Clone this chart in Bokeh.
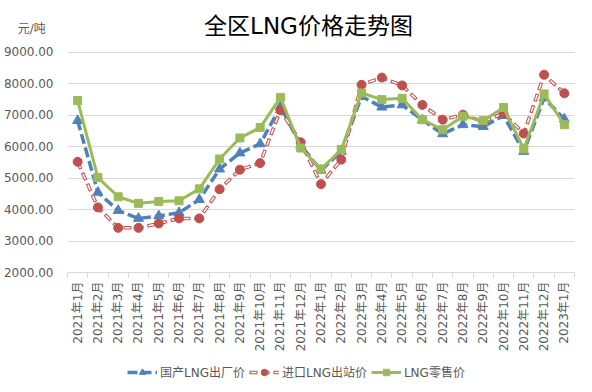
import numpy as np
from bokeh.plotting import figure
from bokeh.layouts import column
from bokeh.models import (Range1d, FixedTicker, PrintfTickFormatter, Legend,
                          LegendItem, Label, ColumnDataSource)
from bokeh.embed import file_html
from bokeh.resources import INLINE

months = ["2021年1月", "2021年2月", "2021年3月", "2021年4月", "2021年5月", "2021年6月",
          "2021年7月", "2021年8月", "2021年9月", "2021年10月", "2021年11月", "2021年12月",
          "2022年1月", "2022年2月", "2022年3月", "2022年4月", "2022年5月", "2022年6月",
          "2022年7月", "2022年8月", "2022年9月", "2022年10月", "2022年11月", "2022年12月",
          "2023年1月"]
domestic = [6830, 4550, 3970, 3720, 3800, 3900, 4320, 5290, 5800, 6090, 7280, 6050,
            5250, 5850, 7600, 7260, 7330, 6850, 6410, 6700, 6640, 6990, 5850, 7550, 6880]
imported = [5520, 4070, 3420, 3420, 3560, 3720, 3720, 4650, 5270, 5480, 7170, 6140,
            4810, 5590, 7970, 8200, 7950, 7330, 6860, 7020, 6800, 7060, 6420, 8290, 7700]
retail = [7470, 5020, 4410, 4200, 4260, 4280, 4660, 5610, 6280, 6610, 7570, 5960,
          5290, 5910, 7710, 7500, 7540, 6860, 6540, 6970, 6830, 7250, 5930, 7680, 6700]
y_ticks = [2000, 3000, 4000, 5000, 6000, 7000, 8000, 9000]
series_names = ["国产LNG出厂价", "进口LNG出站价", "LNG零售价"]
title_text = "全区LNG价格走势图"
unit_text = "元/吨"

BLUE = "#4F81BD"
RED = "#C0504D"
GREEN = "#9BBB59"
GRID = "#D9D9D9"
TXT = "#595959"
FONT = "DejaVu Sans, Noto Sans CJK SC"

# frame extends above the 9000 line to host the title and unit label
Y_TOP = 10270
UNIT_Y = 9760

n = len(months)
xs = np.arange(n) + 0.5
src = ColumnDataSource(dict(x=xs, d=domestic, i=imported, r=retail))

p = figure(frame_width=507, frame_height=260, output_backend="svg", toolbar_location=None,
           x_range=Range1d(0, n), y_range=Range1d(y_ticks[0], Y_TOP),
           min_border_left=61, min_border_right=8, min_border_top=12, min_border_bottom=86)
p.outline_line_color = None
p.background_fill_color = "white"
p.border_fill_color = "white"

# axes
xa = p.xaxis[0]
xa.ticker = FixedTicker(ticks=list(xs), minor_ticks=list(range(n + 1)))
xa.major_label_overrides = {float(x): m for x, m in zip(xs, months)}
xa.major_label_orientation = np.pi / 2
xa.major_tick_line_color = None
xa.major_tick_out = 5
xa.major_tick_in = 0
xa.minor_tick_line_color = GRID
xa.minor_tick_in = 0
xa.minor_tick_out = 5
xa.axis_line_color = GRID
xa.major_label_text_font = FONT
xa.major_label_text_font_size = "12px"
xa.major_label_text_color = TXT
xa.major_label_standoff = 4

ya = p.yaxis[0]
ya.ticker = FixedTicker(ticks=y_ticks + [UNIT_Y])
ya.formatter = PrintfTickFormatter(format="%.2f")
ya.major_label_overrides = {float(UNIT_Y): unit_text + "\u00a0\u00a0"}
ya.axis_line_color = None
ya.major_tick_line_color = None
ya.minor_tick_line_color = None
ya.major_label_text_font = FONT
ya.major_label_text_font_size = "12px"
ya.major_label_text_color = TXT
ya.major_label_standoff = 8

p.xgrid.grid_line_color = None
p.ygrid.grid_line_color = GRID
p.ygrid.ticker = FixedTicker(ticks=y_ticks)


def draw_series(fig):
    l1 = fig.line("x", "d", source=src, line_color=BLUE, line_width=3.5, line_dash="10 4")
    m1 = fig.scatter("x", "d", source=src, marker="triangle", size=10,
                     fill_color=BLUE, line_color=BLUE)
    l2a = fig.line("x", "i", source=src, line_color=RED, line_width=3.5, line_dash="8 4")
    l2b = fig.line("x", "i", source=src, line_color="white", line_width=1.5,
                   line_dash="6 6", line_dash_offset=-1)
    m2 = fig.scatter("x", "i", source=src, marker="circle", size=9,
                     fill_color=RED, line_color=RED)
    l3 = fig.line("x", "r", source=src, line_color=GREEN, line_width=3)
    m3 = fig.scatter("x", "r", source=src, marker="square", size=8,
                     fill_color=GREEN, line_color=GREEN)
    return [[l1, m1], [l2a, l2b, m2], [l3, m3]]


draw_series(p)

p.add_layout(Label(x=241, y=247, x_units="screen", y_units="screen", text=title_text,
                   text_align="center", text_baseline="middle", text_font=FONT,
                   text_font_size="23px", text_color="black"))

# legend strip below the chart (its glyph copies lie outside its own ranges)
q = figure(width=576, height=34, output_backend="svg", toolbar_location=None,
           x_range=Range1d(0, 1), y_range=Range1d(0, 1), x_axis_type=None, y_axis_type=None,
           min_border=0)
q.outline_line_color = None
q.grid.visible = False
groups = draw_series(q)
legend = Legend(items=[LegendItem(label=name, renderers=rs) for name, rs in zip(series_names, groups)],
                orientation="horizontal", location=(60, 12),
                label_text_font=FONT, label_text_font_size="12px", label_text_color=TXT,
                glyph_width=30, glyph_height=16, label_standoff=3, spacing=4,
                padding=0, margin=0, border_line_color=None, background_fill_alpha=0)
q.add_layout(legend, "center")

layout = column(p, q, spacing=0)
open("out.html", "w").write(file_html(layout, INLINE))
